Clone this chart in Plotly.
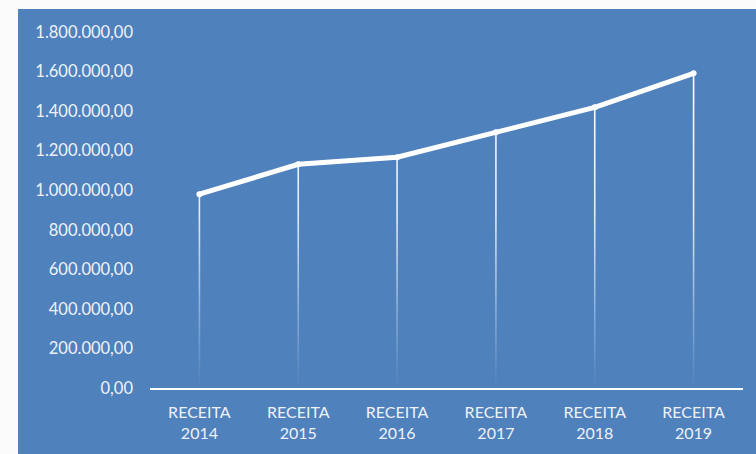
import plotly.graph_objects as go

# values
anos = ["2014", "2015", "2016", "2017", "2018", "2019"]
categorias = ["RECEITA<br>" + a for a in anos]
receita = [980000, 1131000, 1167000, 1293000, 1419000, 1591000]
y_ticks = [0, 200000, 400000, 600000, 800000, 1000000, 1200000, 1400000, 1600000, 1800000]

AZUL = "#4F81BD"
TEXTO = "#EEF2F8"
FUNDO = "#FBFBFB"

pos = list(range(len(categorias)))

fig = go.Figure()

# drop lines as thin filled strips with a vertical gradient (fade to the axis)
meia = 0.008
xs, ys = [], []
for i, v in zip(pos, receita):
    xs += [i - meia, i + meia, i + meia, i - meia, i - meia, None]
    ys += [0, 0, v, v, 0, None]
fig.add_trace(go.Scatter(
    x=xs, y=ys, mode="lines", fill="toself",
    line=dict(width=0, color="rgba(0,0,0,0)"),
    fillgradient=dict(
        type="vertical",
        colorscale=[[0, "rgba(255,255,255,0)"], [0.25, "rgba(255,255,255,0.35)"],
                    [0.55, "rgba(255,255,255,0.85)"], [1, "rgba(255,255,255,1)"]],
        start=0, stop=max(receita),
    ),
    hoverinfo="skip", showlegend=False,
))

fig.add_trace(go.Scatter(
    x=pos, y=receita, mode="lines+markers",
    line=dict(color="white", width=5),
    marker=dict(color="white", size=6),
    showlegend=False,
))

L, R, T, B = 150, 13, 32, 66
W, H = 756, 454
pw, ph = W - L - R, H - T - B

# light strip on the left and top (outside the blue chart area)
fig.add_shape(type="rect", xref="paper", yref="paper",
              x0=-L / pw, x1=(18 - L) / pw, y0=-B / ph, y1=1 + T / ph,
              fillcolor=FUNDO, line_width=0, layer="below")
fig.add_shape(type="rect", xref="paper", yref="paper",
              x0=-L / pw, x1=1 + R / pw, y0=1 + (T - 9) / ph, y1=1 + T / ph,
              fillcolor=FUNDO, line_width=0, layer="below")

fig.update_layout(
    width=W, height=H,
    margin=dict(l=L, r=R, t=T, b=B),
    paper_bgcolor=AZUL, plot_bgcolor=AZUL,
    separators=",.",
    font=dict(family="Lato, sans-serif", color=TEXTO, size=16),
)
fig.update_xaxes(
    showgrid=False, zeroline=False,
    showline=True, linecolor="white", linewidth=2,
    ticks="", tickfont=dict(size=16, color=TEXTO),
    tickvals=pos, ticktext=categorias,
    ticklabelstandoff=9,
    range=[-0.5, 5.5],
)
fig.update_yaxes(
    showgrid=False, zeroline=False, showline=False,
    range=[0, 1800000], tickvals=y_ticks, tickformat=",.2f",
    tickfont=dict(size=16.5, color=TEXTO), ticklabelstandoff=16,
)

# drop the browser's default body margin so the chart sits in the corner
fig.write_html("out.html", config={"displayModeBar": False},
               post_script="document.body.style.margin='0';")
